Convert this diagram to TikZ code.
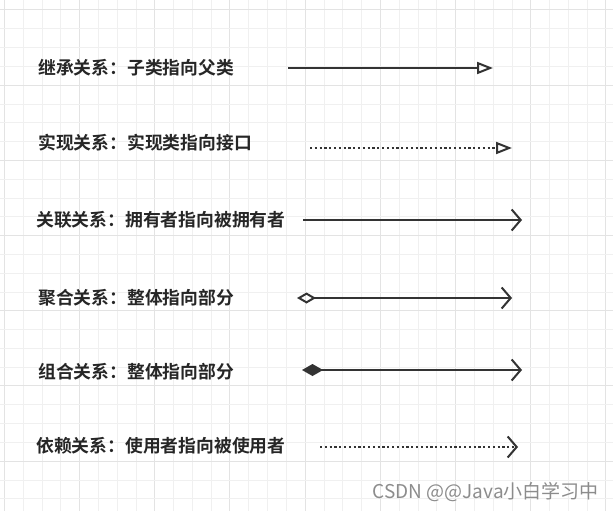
\documentclass[tikz,border=0pt]{standalone}
\usepackage{fontspec}
\setmainfont{Noto Sans CJK SC}[BoldFont=* Bold]
\usetikzlibrary{arrows.meta}
\tikzset{
  lbl/.style={anchor=west,font=\bfseries\fontsize{17.8}{19}\selectfont,text=black!85,inner sep=0},
  rel/.style={line width=2.6pt,draw=black!80},
  dotrel/.style={line width=2.6pt,draw=black!80,dash pattern=on 2.2pt off 2.6pt},
  bhead/.style={-{Straight Barb[length=9pt,width=21pt,line width=2pt]}},
}
\begin{document}
\begin{tikzpicture}[x=1pt,y=-1pt]
\useasboundingbox (0,0) rectangle (613,511);
\fill[white] (0,0) rectangle (613,511);
\foreach \i in {0,...,32} {
  \pgfmathsetmacro\xx{4.2+\i*18.8}
  \pgfmathtruncatemacro\m{mod(\i,4)}
  \ifnum\m=0 \draw[black!11,line width=0.8pt] (\xx,0) -- (\xx,511);
  \else \draw[black!6,line width=0.6pt] (\xx,0) -- (\xx,511); \fi
}
\foreach \i in {0,...,27} {
  \pgfmathsetmacro\yy{9.8+\i*18.8}
  \pgfmathtruncatemacro\m{mod(\i,4)}
  \ifnum\m=0 \draw[black!11,line width=0.8pt] (0,\yy) -- (613,\yy);
  \else \draw[black!6,line width=0.6pt] (0,\yy) -- (613,\yy); \fi
}
\node[lbl] (t1) at (38,68) {继承关系：子类指向父类};
\node[lbl] (t2) at (38,143) {实现关系：实现类指向接口};
\node[lbl] (t3) at (36,220) {关联关系：拥有者指向被拥有者};
\node[lbl] (t4) at (38,298) {聚合关系：整体指向部分};
\node[lbl] (t5) at (38,372) {组合关系：整体指向部分};
\node[lbl] (t6) at (36,446) {依赖关系：使用者指向被使用者};
\coordinate (a1) at (288,68); \coordinate (b1) at (493,68);
\coordinate (a2) at (310,148); \coordinate (b2) at (512,148);
\coordinate (a3) at (303,220); \coordinate (b3) at (522,220);
\coordinate (a4) at (297,298); \coordinate (b4) at (512,298);
\coordinate (a5) at (302,370); \coordinate (b5) at (522,370);
\coordinate (a6) at (320,447); \coordinate (b6) at (518,447);
\draw[rel,-{Triangle[open,length=16pt,width=12pt,line width=2pt]}] (a1) -- (b1);
\draw[dotrel,-{Triangle[open,length=16pt,width=12pt,line width=2pt]}] (a2) -- (b2);
\draw[rel,bhead] (a3) -- (b3);
\draw[rel,{Diamond[open,length=19pt,width=11pt,line width=2pt]}-{Straight Barb[length=9pt,width=21pt,line width=2pt]}] (a4) -- (b4);
\draw[rel,{Diamond[length=21pt,width=12pt]}-{Straight Barb[length=9pt,width=21pt,line width=2pt]}] (a5) -- (b5);
\draw[dotrel,bhead] (a6) -- (b6);
\node[anchor=east,text=black!45,font=\fontsize{19}{21}\selectfont,inner sep=0] (wm) at (599,492) {CSDN @@Java小白学习中};
\end{tikzpicture}
\end{document}
